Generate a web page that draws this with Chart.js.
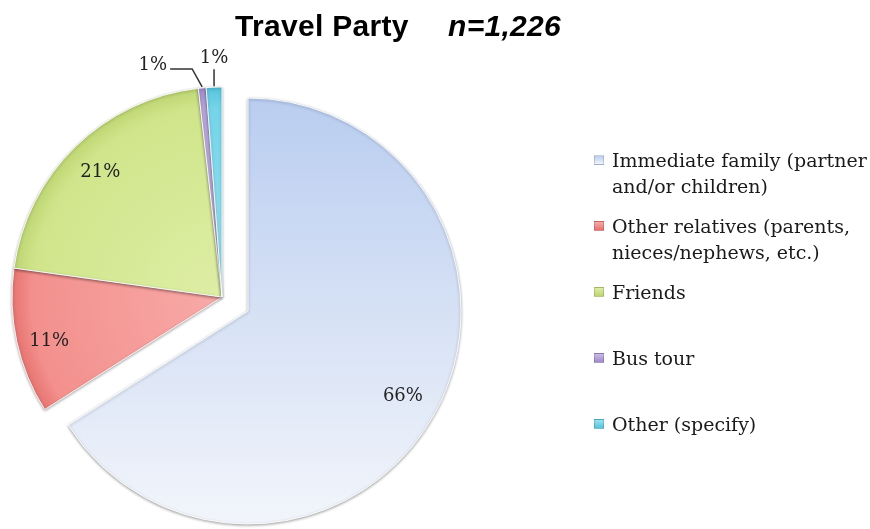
<!DOCTYPE html>
<html>
<head>
<meta charset="utf-8">
<script src="https://cdn.jsdelivr.net/npm/chart.js@4.4.1/dist/chart.umd.min.js"></script>
<style>
  body { margin: 0; background: #fff; }
  #wrap { position: relative; width: 870px; height: 529px; overflow: hidden; }
  canvas { position: absolute; left: 0; top: 0; }
  .ttl { position: absolute; top: 9px; font-family: "Liberation Sans", Arial, sans-serif; font-weight: bold;
         font-size: 30px; line-height: 34px; letter-spacing: 0.3px; color: #000; white-space: nowrap; }
  .item { position: absolute; left: 594px; font-family: "DejaVu Serif", serif; font-size: 19px;
          line-height: 26px; color: #1a1a1a; padding-left: 18px; white-space: nowrap; }
  .item span.box { position: absolute; left: 0; top: 8px; width: 10px; height: 10px; box-sizing: border-box;
                   border: 1px solid rgba(0,0,0,0.15); }
</style>
</head>
<body>
<div id="wrap">
  <canvas id="rest" width="870" height="529"></canvas>
  <canvas id="main" width="870" height="529"></canvas>
  <div class="ttl" style="left:235px">Travel Party</div>
  <div class="ttl" style="left:448px"><i>n=1,226</i></div>
  <div id="legend"></div>
</div>
<script>
// data
var categories = [
  ['Immediate family (partner', 'and/or children)'],
  ['Other relatives (parents,', 'nieces/nephews, etc.)'],
  ['Friends'],
  ['Bus tour'],
  ['Other (specify)']
];
var shares = [66, 11.2, 21, 0.6, 1.2];

// colours: [light, base, edge]
var palette = [
  ['#b9cdf0', '#d6e1f5', '#f2f5fb'],
  ['#f8aaa8', '#f3908d', '#e6726f'],
  ['#deeea6', '#d0e58b', '#bdd572'],
  ['#cbbce8', '#b6a3dc', '#9f8acb'],
  ['#98e3f1', '#74d4e9', '#55c2db']
];

function sliceFill(show) {
  return function (c) {
    var i = c.dataIndex;
    if (show.indexOf(i) < 0) return 'rgba(0,0,0,0)';
    var chart = c.chart, a = chart.chartArea;
    if (!a) return palette[i][1];
    var ctx = chart.ctx, g;
    var cx = (a.left + a.right) / 2, cy = (a.top + a.bottom) / 2;
    if (i === 0) {
      g = ctx.createLinearGradient(0, cy - 213, 0, cy + 213);
      g.addColorStop(0, palette[0][0]);
      g.addColorStop(0.5, palette[0][1]);
      g.addColorStop(1, palette[0][2]);
    } else {
      g = ctx.createRadialGradient(cx, cy, 0, cx, cy, 211);
      g.addColorStop(0, palette[i][0]);
      g.addColorStop(0.9, palette[i][1]);
      g.addColorStop(1, palette[i][2]);
    }
    return g;
  };
}

var sliceLabels = {
  id: 'sliceLabels',
  beforeDatasetsDraw: function (chart) {
    var ctx = chart.ctx;
    ctx.save();
    ctx.shadowColor = 'rgba(0,0,0,0.35)';
    ctx.shadowBlur = 3;
    ctx.shadowOffsetY = 1;
  },
  afterDatasetsDraw: function (chart, args, opts) {
    var ctx = chart.ctx;
    ctx.restore();
    var meta = chart.getDatasetMeta(0);
    ctx.save();
    ctx.font = '18px "DejaVu Serif", serif';
    ctx.fillStyle = '#222';
    ctx.strokeStyle = '#333';
    ctx.lineWidth = 1.5;
    ctx.textBaseline = 'middle';
    meta.data.forEach(function (arc, i) {
      if (opts.show.indexOf(i) < 0) return;
      var p = arc.getProps(['x', 'y', 'startAngle', 'endAngle', 'outerRadius']);
      var mid = (p.startAngle + p.endAngle) / 2;
      var txt = Math.round(shares[i]) + '%';
      if (shares[i] >= 5) {
        var d = p.outerRadius * 0.83;
        if (i === 1) { d = p.outerRadius * 0.85; mid -= 0.04; }
        ctx.textAlign = 'center';
        ctx.fillText(txt, p.x + Math.cos(mid) * d, p.y + Math.sin(mid) * d);
        return;
      }
      var ex = p.x + Math.cos(mid) * (p.outerRadius + 1);
      var ey = p.y + Math.sin(mid) * (p.outerRadius + 1);
      ctx.beginPath();
      ctx.moveTo(ex, ey);
      if (i === 3) {
        ctx.lineTo(ex - 10, ey - 18);
        ctx.lineTo(ex - 32, ey - 18);
        ctx.stroke();
        ctx.textAlign = 'right';
        ctx.fillText(txt, ex - 35, ey - 22);
      } else {
        ctx.lineTo(ex, ey - 17);
        ctx.stroke();
        ctx.textAlign = 'center';
        ctx.fillText(txt, ex, ey - 28);
      }
    });
    ctx.restore();
  }
};

// one pie per canvas: the exploded slice sits on its own, shifted canvas layer
function makePie(id, show, padding, radius) {
  return new Chart(document.getElementById(id), {
    type: 'pie',
    data: {
      labels: categories,
      datasets: [{
        data: shares,
        radius: radius,
        backgroundColor: sliceFill(show),
        borderColor: 'rgba(255,255,255,0.9)',
        borderWidth: function (c) { return show.indexOf(c.dataIndex) >= 0 ? 1 : 0; }
      }]
    },
    options: {
      responsive: false,
      animation: false,
      layout: { padding: padding },
      plugins: {
        legend: { display: false },
        tooltip: { enabled: false },
        sliceLabels: { show: show }
      }
    },
    plugins: [sliceLabels]
  });
}

makePie('rest', [1, 2, 3, 4], { left: 0, right: 426, top: 65, bottom: 0 }, 210);
makePie('main', [0], { left: 0, right: 374, top: 93, bottom: 0 }, 213);

// legend
var legend = document.getElementById('legend');
categories.forEach(function (lines, i) {
  var el = document.createElement('div');
  el.className = 'item';
  el.style.top = (147 + i * 66) + 'px';
  var box = document.createElement('span');
  box.className = 'box';
  box.style.background = 'linear-gradient(' + palette[i][0] + ',' + palette[i][2] + ')';
  el.appendChild(box);
  lines.forEach(function (t, k) {
    if (k) el.appendChild(document.createElement('br'));
    el.appendChild(document.createTextNode(t));
  });
  legend.appendChild(el);
});
</script>
</body>
</html>
